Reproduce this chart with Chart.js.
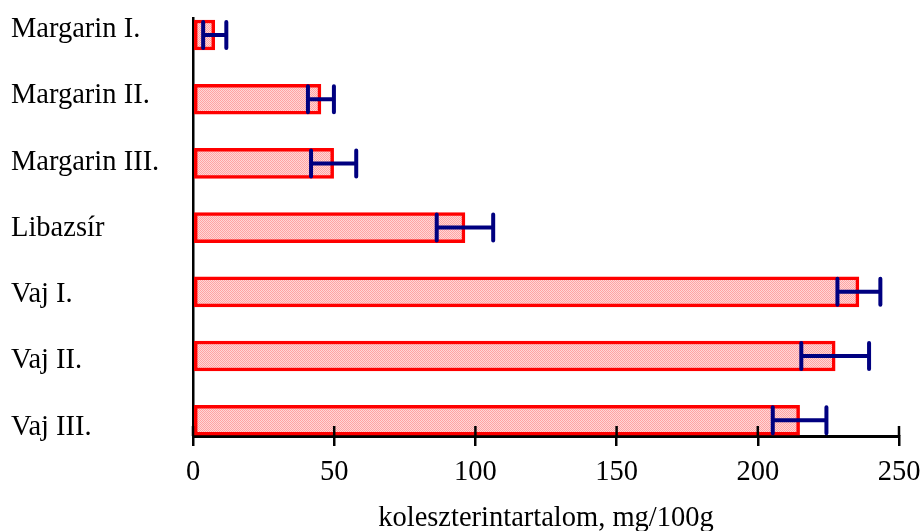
<!DOCTYPE html>
<html>
<head>
<meta charset="utf-8">
<script src="https://cdn.jsdelivr.net/npm/chart.js@4"></script>
<style>
  html, body { margin: 0; padding: 0; background: #fff; }
  #wrap { width: 921px; height: 531px; }
</style>
</head>
<body>
<div id="wrap"><canvas id="cholChart" width="921" height="531"></canvas></div>
<script>
let categories = ["Margarin I.", "Margarin II.", "Margarin III.", "Libazsír", "Vaj I.", "Vaj II.", "Vaj III."];
let means = [7.7, 45.3, 49.8, 96.3, 235.8, 227.4, 214.8];
let errors = [4.1, 4.6, 8, 10, 7.6, 12, 9.5];
let xTicks = [0, 50, 100, 150, 200, 250];

const serif = "'Liberation Serif', 'Times New Roman', serif";

// small checkered pink fill for the bars
function makePattern() {
  let c = document.createElement("canvas");
  c.width = 2; c.height = 2;
  let g = c.getContext("2d");
  g.fillStyle = "#ffd6d6"; g.fillRect(0, 0, 2, 2);
  g.fillStyle = "#ffa3a3"; g.fillRect(0, 0, 1, 1); g.fillRect(1, 1, 1, 1);
  return g.createPattern(c, "repeat");
}

// horizontal error bars with end caps
const errorBars = {
  id: "errorBars",
  afterDraw(chart) {
    const ctx = chart.ctx;
    const xs = chart.scales.x, ys = chart.scales.y;
    ctx.save();
    ctx.strokeStyle = "#000080";
    ctx.lineWidth = 4;
    ctx.lineCap = "round";
    means.forEach((m, i) => {
      const y = ys.getPixelForValue(i);
      const x1 = xs.getPixelForValue(m - errors[i]);
      const x2 = xs.getPixelForValue(m + errors[i]);
      ctx.beginPath();
      ctx.moveTo(x1, y); ctx.lineTo(x2, y);
      ctx.moveTo(x1, y - 13); ctx.lineTo(x1, y + 13);
      ctx.moveTo(x2, y - 13); ctx.lineTo(x2, y + 13);
      ctx.stroke();
    });
    ctx.restore();
  }
};

// tick marks on the x axis cross the line, so add the part above it
const crossTicks = {
  id: "crossTicks",
  afterDraw(chart) {
    const ctx = chart.ctx;
    const xs = chart.scales.x;
    ctx.save();
    ctx.strokeStyle = "#000";
    ctx.lineWidth = 2.5;
    xs.ticks.forEach(t => {
      const x = xs.getPixelForValue(t.value);
      ctx.beginPath();
      ctx.moveTo(x, xs.top - 10);
      ctx.lineTo(x, xs.top);
      ctx.stroke();
    });
    ctx.restore();
  }
};

const data = {
  datasets: [{
    data: means.map((m, i) => ({ x: m, y: i })),
    backgroundColor: makePattern(),
    borderColor: "#ff0000",
    borderWidth: 3.5,
    borderSkipped: false,
    barThickness: 30
  }]
};

const config = {
  type: "bar",
  data: data,
  options: {
    indexAxis: "y",
    responsive: false,
    animation: false,
    layout: { padding: { left: 11, right: 22, top: 18, bottom: 0 } },
    plugins: {
      legend: { display: false },
      tooltip: { enabled: false }
    },
    scales: {
      x: {
        type: "linear",
        min: 0,
        max: 250,
        z: 1,
        afterBuildTicks: s => { s.ticks = xTicks.map(v => ({ value: v })); },
        afterFit: s => { s.height = 95; s.paddingLeft = 0; s.paddingRight = 0; },
        grid: { drawOnChartArea: false, drawTicks: true, tickLength: 10, color: "#000", lineWidth: 2.5 },
        border: { display: true, color: "#000", width: 3 },
        ticks: { color: "#000", padding: 9, font: { family: serif, size: 28.5 } },
        title: {
          display: true,
          text: "koleszterintartalom, mg/100g",
          color: "#000",
          font: { family: serif, size: 28.5 },
          padding: { top: 14, bottom: -5 }
        }
      },
      // bar positions
      y: {
        type: "linear",
        position: "left",
        weight: 0,
        reverse: true,
        offset: false,
        min: -0.265,
        max: 6.246,
        z: 1,
        afterFit: s => { s.width = 0; },
        grid: { display: false, drawTicks: false },
        border: { display: true, color: "#000", width: 2.5 },
        ticks: { display: false }
      },
      // category names, spaced a little wider than the bars
      yLabels: {
        type: "linear",
        axis: "y",
        position: "left",
        weight: 1,
        reverse: true,
        offset: false,
        min: -0.173,
        max: 6.131,
        afterBuildTicks: s => { s.ticks = categories.map((c, i) => ({ value: i })); },
        afterFit: s => { s.width = 182; },
        grid: { display: false, drawTicks: false },
        border: { display: false },
        ticks: {
          color: "#000",
          crossAlign: "far",
          padding: 0,
          font: { family: serif, size: 28.5 },
          callback: v => categories[v]
        }
      }
    }
  },
  plugins: [errorBars, crossTicks]
};

let cholChart = new Chart(document.getElementById("cholChart"), config);
</script>
</body>
</html>
